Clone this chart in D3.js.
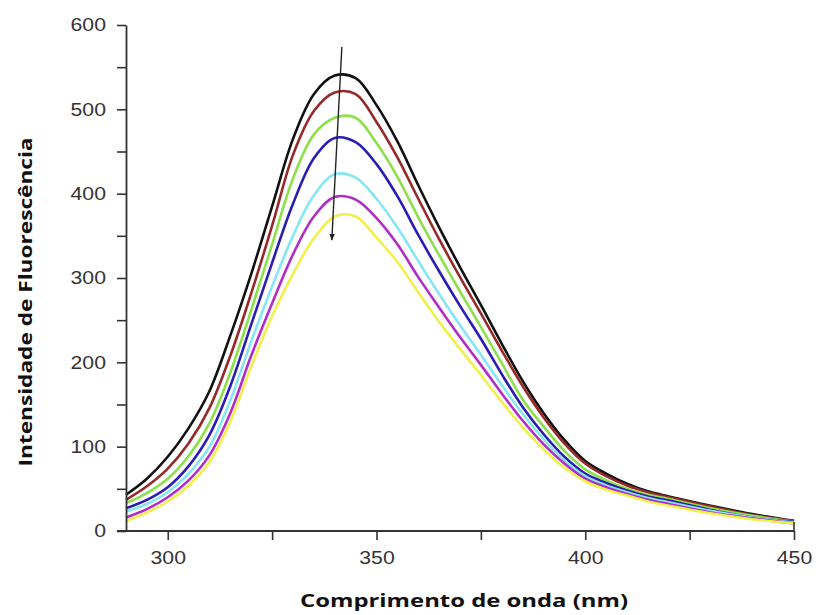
<!DOCTYPE html>
<html>
<head>
<meta charset="utf-8">
<script src="https://cdn.jsdelivr.net/npm/d3@7"></script>
<style>
  html, body { margin: 0; padding: 0; background: #fff; }
  svg { display: block; }
</style>
</head>
<body>
<script>
// ---------- data ----------
const wavelengths = [290,295,300,305,310,315,320,325,330,335,340,345,350,355,360,365,370,375,380,385,390,395,400,405,410,415,420,430,440,450];

const seriesBlack   = [43,62,88,122,166,232,305,385,465,518,540,537,505,462,410,360,313,268,222,178,140,108,83,68,56,47,41,30,20,12];
const seriesBrown   = [37,53,74,104,146,208,282,362,446,498,520,518,485,443,394,346,301,258,214,172,135,104,80,65,54,46,40,29,19,12];
const seriesGreen   = [33,45,62,89,128,188,262,340,418,470,490,490,460,420,372,327,284,242,199,156,124,95,73,60,50,43,38,27,18,11];
const seriesBlue    = [27,37,52,77,114,172,245,318,388,442,466,461,435,397,351,308,267,228,186,147,115,88,68,57,48,41,36,25,16,11];
const seriesCyan    = [23,32,46,68,100,155,225,290,350,398,423,419,394,360,320,281,244,209,173,139,109,84,65,54,46,39,34,24,16,10];
const seriesMagenta = [16,26,40,60,90,140,208,270,328,373,396,393,371,340,301,265,230,197,163,131,103,80,62,52,44,37,32,22,15,9];
const seriesYellow  = [12,22,35,54,82,130,195,255,305,347,373,373,348,319,283,248,216,185,153,123,97,75,59,49,42,35,30,21,14,9];

const seriesList   = [seriesBlack, seriesBrown, seriesGreen, seriesBlue, seriesCyan, seriesMagenta, seriesYellow];
const seriesColors = ["#111111", "#962a2a", "#8ee04a", "#2a1cb4", "#86e6f2", "#b22cc6", "#f2f04a"];

const xTickValues = [300, 325, 350, 375, 400, 425, 450];
const xTickLabels = [300, 350, 400, 450];
const yTickValues = [0, 50, 100, 150, 200, 250, 300, 350, 400, 450, 500, 550, 600];
const yTickLabels = [0, 100, 200, 300, 400, 500, 600];

const arrowX = [341.7, 339.3];
const arrowY = [574, 345];

const xTitle = "Comprimento de onda (nm)";
const yTitle = "Intensidade de Fluorescência";

// ---------- layout ----------
const W = 816, H = 615;
const plotLeft = 126, plotRight = 794, plotTop = 25, plotBottom = 531;

const svg = d3.select("body").append("svg").attr("width", W).attr("height", H);

const x = d3.scaleLinear().domain([290, 450]).range([plotLeft, plotRight]);
const y = d3.scaleLinear().domain([0, 600]).range([plotBottom, plotTop]);

// ---------- curves ----------
const line = d3.line()
  .x((d, i) => x(wavelengths[i]))
  .y(d => y(d))
  .curve(d3.curveCatmullRom.alpha(0.5));

svg.append("g").selectAll("path")
  .data(seriesList)
  .join("path")
  .attr("d", d => line(d))
  .attr("fill", "none")
  .attr("stroke", (d, i) => seriesColors[i])
  .attr("stroke-width", 2.6)
  .attr("stroke-linejoin", "round");

// ---------- axes ----------
const tickFont = "'Liberation Sans', Arial, sans-serif";

const xAxis = d3.axisBottom(x)
  .tickValues(xTickValues)
  .tickSize(9)
  .tickSizeOuter(0)
  .tickFormat(d => xTickLabels.includes(d) ? d : "");
const gx = svg.append("g").attr("transform", `translate(0,${plotBottom})`).call(xAxis);

const yAxis = d3.axisLeft(y)
  .tickValues(yTickValues)
  .tickSize(9)
  .tickSizeOuter(0)
  .tickFormat(d => yTickLabels.includes(d) ? d : "");
const gy = svg.append("g").attr("transform", `translate(${plotLeft},0)`).call(yAxis);

[gx, gy].forEach(g => {
  g.select(".domain").attr("stroke", "#333").attr("stroke-width", 1.8);
  g.selectAll(".tick line").attr("stroke", "#333").attr("stroke-width", 1.6);
  g.selectAll(".tick text")
    .attr("fill", "#333")
    .style("font-family", tickFont)
    .style("font-size", "18px");
});
gx.selectAll(".tick text").attr("y", 20).attr("transform", "scale(1.18,1)");
gy.selectAll(".tick text").attr("x", -17).attr("transform", "scale(1.18,1)");
gx.select(".domain").attr("d", `M${plotLeft - 9},0H${plotRight}`);

gx.append("line")
  .attr("x1", x(450)).attr("x2", x(450))
  .attr("y1", -9).attr("y2", 0)
  .attr("stroke", "#333").attr("stroke-width", 1.6);

// ---------- arrow ----------
const defs = svg.append("defs");
defs.append("marker")
  .attr("id", "ah")
  .attr("viewBox", "0 0 10 10")
  .attr("refX", 9).attr("refY", 5)
  .attr("markerWidth", 5).attr("markerHeight", 6)
  .attr("markerUnits", "strokeWidth")
  .attr("orient", "auto")
  .append("path").attr("d", "M0,1 L10,5 L0,9 Z").attr("fill", "#222");

svg.append("line")
  .attr("x1", x(arrowX[0])).attr("y1", y(arrowY[0]))
  .attr("x2", x(arrowX[1])).attr("y2", y(arrowY[1]))
  .attr("stroke", "#222").attr("stroke-width", 1.4)
  .attr("marker-end", "url(#ah)");

// ---------- titles ----------
const titleFont = "'Open Sans', 'DejaVu Sans', sans-serif";
svg.append("text")
  .attr("x", 464).attr("y", 607)
  .attr("text-anchor", "middle")
  .attr("textLength", 328).attr("lengthAdjust", "spacingAndGlyphs")
  .style("font-family", titleFont).style("font-weight", "bold").style("font-size", "18px")
  .attr("fill", "#111")
  .text(xTitle);

svg.append("text")
  .attr("transform", "translate(32,302) rotate(-90)")
  .attr("text-anchor", "middle")
  .attr("textLength", 329).attr("lengthAdjust", "spacingAndGlyphs")
  .style("font-family", titleFont).style("font-weight", "bold").style("font-size", "18px")
  .attr("fill", "#111")
  .text(yTitle);
</script>
</body>
</html>
